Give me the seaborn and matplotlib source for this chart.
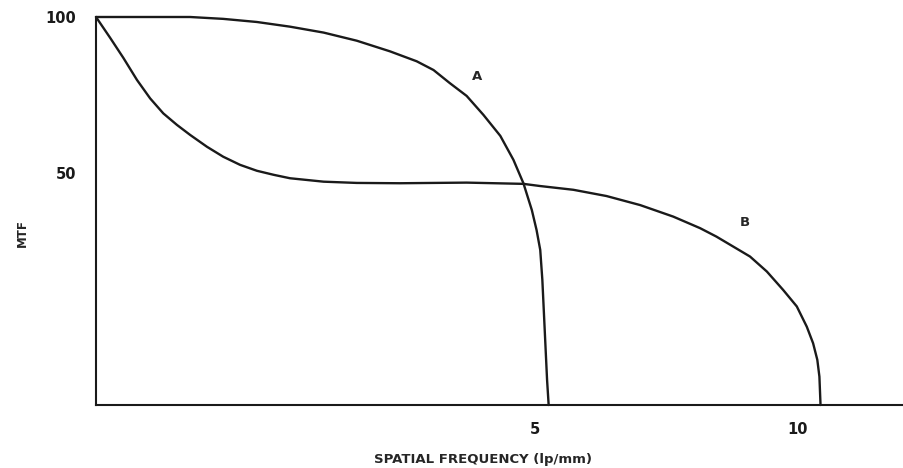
import matplotlib
matplotlib.use('Agg')
import matplotlib.pyplot as plt
import seaborn as sns
import pandas as pd

# MTF curves (frequency in lp/mm, MTF in %)
freq_a = [-3.35, -2.83, -2.19, -1.56, -0.93, -0.29, 0.34, 0.98, 1.61, 2.24, 2.75,
          3.07, 3.38, 3.70, 4.02, 4.34, 4.59, 4.78, 4.94, 5.03, 5.10, 5.14, 5.17,
          5.20, 5.23, 5.26]
mtf_a = [100, 100, 100, 100, 99.4, 98.4, 96.9, 95.0, 92.4, 89.0, 85.8,
         83.0, 78.8, 74.7, 68.6, 61.9, 54.2, 46.7, 38.1, 31.7, 25.3, 15.7, 5.0,
         -5.7, -16.4, -24.4]

freq_b = [-3.35, -3.08, -2.83, -2.57, -2.32, -2.07, -1.81, -1.56, -1.24, -0.93, -0.61,
          -0.29, 0.03, 0.34, 0.98, 1.61, 2.43, 3.70, 4.78, 5.10, 5.73, 6.36, 7.00,
          7.63, 8.14, 8.45, 8.77, 9.09, 9.41, 9.72, 9.98, 10.17, 10.29, 10.37, 10.41,
          10.43, 10.43]
mtf_b = [100, 93.3, 86.9, 79.8, 73.9, 69.1, 65.4, 62.2, 58.4, 55.2, 52.6,
         50.7, 49.4, 48.3, 47.2, 46.8, 46.7, 46.9, 46.5, 45.8, 44.6, 42.6, 39.7,
         36.0, 32.3, 29.6, 26.4, 23.2, 18.4, 12.5, 7.2, 0.7, -4.6, -9.9, -15.3,
         -23.8, -24.4]

x_ticks = [5, 10]
y_ticks = [50, 100]
curve_labels = ['A', 'B']

df = pd.concat([
    pd.DataFrame({'freq': freq_a, 'mtf': mtf_a, 'curve': 'A'}),
    pd.DataFrame({'freq': freq_b, 'mtf': mtf_b, 'curve': 'B'}),
], ignore_index=True)

sns.set_style('white')
plt.rcParams['font.family'] = ['DejaVu Sans']

fig = plt.figure(figsize=(9.04, 4.68), dpi=100)
ax = fig.add_axes([96 / 904, 1 - 405 / 468, 807 / 904, 388 / 468])

sns.lineplot(data=df, x='freq', y='mtf', units='curve', estimator=None, sort=False,
             color='#1a1a1a', linewidth=1.7, ax=ax, clip_on=False)

ax.set_xlim(-3.35, 12.0)
ax.set_ylim(-24.4, 100)

for s in ['top', 'right']:
    ax.spines[s].set_visible(False)
for s in ['left', 'bottom']:
    ax.spines[s].set_linewidth(1.5)
    ax.spines[s].set_color('#1a1a1a')

ax.set_xticks(x_ticks)
ax.set_xticklabels([str(t) for t in x_ticks], fontweight='bold', fontsize=10.5)
ax.set_yticks(y_ticks)
ax.set_yticklabels([str(t) for t in y_ticks], fontweight='bold', fontsize=10.5)
ax.tick_params(axis='x', direction='in', length=4, width=1.2, pad=12, colors='#1a1a1a')
ax.tick_params(axis='y', direction='in', length=5, width=1.2, pad=14, colors='#1a1a1a')

ax.set_xlabel('')
ax.set_ylabel('')

ax.text(3.90, 80.8, curve_labels[0], fontsize=9.5, fontweight='bold', ha='center', va='center')
ax.text(8.99, 34.0, curve_labels[1], fontsize=9.5, fontweight='bold', ha='center', va='center')

fig.text(22 / 904, 1 - 233 / 468, 'MTF', rotation=90, fontsize=8.5, fontweight='bold',
         ha='center', va='center')
fig.text(483 / 904, 1 - 459 / 468, 'SPATIAL FREQUENCY (lp/mm)', fontsize=9.5,
         fontweight='bold', ha='center', va='center')

fig.savefig('out.png', dpi=100)
